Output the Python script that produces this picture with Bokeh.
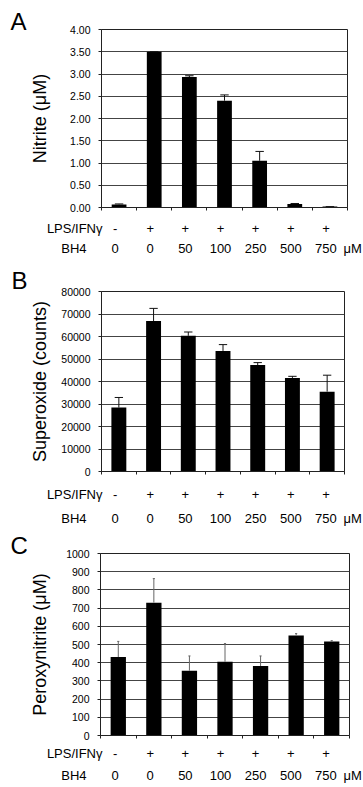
from bokeh.plotting import figure
from bokeh.models import Range1d, FixedTicker, NumeralTickFormatter
from bokeh.layouts import column, row
from bokeh.core.properties import value
from bokeh.embed import file_html
from bokeh.resources import INLINE

# ---------------- data ----------------
lps_row = ["-", "+", "+", "+", "+", "+", "+"]
bh4_row = ["0", "0", "50", "100", "250", "500", "750"]

nitrite = [0.07, 3.50, 2.93, 2.40, 1.05, 0.08, 0.02]
nitrite_err = [0.01, 0.0, 0.03, 0.13, 0.21, 0.01, 0.0]

superoxide = [28400, 66900, 60300, 53600, 47300, 41600, 35500]
superoxide_err = [4500, 5600, 1700, 2800, 1100, 700, 7300]

peroxynitrite = [431, 730, 356, 405, 382, 550, 516]
peroxynitrite_err = [86, 132, 81, 100, 55, 10, 5]

FONT = "Liberation Sans"
FIG_W = 363
LETTER_W = 27
LETTER_H = 44
ROW_FONT = "13px"
# horizontal table scale for the condition rows (px)
TABLE_LEFT, TABLE_WIDTH = 97, 246


def blank_fig(x0, width, y0, y1):
    """A figure whose frame is the whole canvas, in pixel coordinates."""
    p = figure(width=width, height=y1 - y0, output_backend="svg",
               toolbar_location=None, x_axis_type=None, y_axis_type=None,
               x_range=Range1d(x0, x0 + width), y_range=Range1d(y1, y0),
               title=None)
    p.min_border = 0
    p.min_border_left = 0
    p.min_border_right = 0
    p.min_border_top = 0
    p.min_border_bottom = 0
    p.outline_line_color = None
    p.background_fill_color = "white"
    p.border_fill_color = "white"
    return p


def panel(letter, ylabel, vals, errs, ymax, ystep, fmt, g):
    n = len(vals)
    fl, fr, ft, fb = g["frame"]
    fw, fh = fr - fl, fb - ft
    top = g["top"]
    plot_x0 = LETTER_W
    plot_w = FIG_W - LETTER_W
    bb = 10
    plot_bottom = fb + bb

    # ---- letter box (small) + empty filler below it ----
    pl = blank_fig(0, LETTER_W, top, top + LETTER_H)
    pl.text(x=[g["letter"][0]], y=[g["letter"][1]], text=[letter],
            text_font=value(FONT), text_font_size="24px",
            text_color="black", text_baseline=value("middle"),
            text_align=value("left"))
    filler = blank_fig(0, LETTER_W, top + LETTER_H, plot_bottom)
    left = column(pl, filler, spacing=0)

    # ---- bar chart ----
    p = figure(frame_width=fw, frame_height=fh, output_backend="svg",
               toolbar_location=None, x_range=Range1d(0, n),
               y_range=Range1d(0, ymax), title=None)
    p.min_border_left = fl - plot_x0
    p.min_border_right = plot_w - (fl - plot_x0) - fw
    p.min_border_top = ft - top
    p.min_border_bottom = bb
    p.background_fill_color = "white"
    p.border_fill_color = "white"
    p.outline_line_color = "#222222"
    p.outline_line_width = 1

    xs = [i + 0.5 for i in range(n)]
    p.vbar(x=xs, top=vals, width=g["barw"], fill_color="black",
           line_color=None)
    tops = [v + e for v, e in zip(vals, errs)]
    p.segment(x0=xs, y0=vals, x1=xs, y1=tops, line_color=g["errc"],
              line_width=1)
    cw = g["cap"]
    p.segment(x0=[x - cw for x in xs], y0=tops, x1=[x + cw for x in xs],
              y1=tops, line_color=g["errc"], line_width=1)

    # x axis: small ticks at category boundaries, no labels
    p.xaxis.ticker = FixedTicker(ticks=[], minor_ticks=list(range(n + 1)))
    p.xaxis.minor_tick_out = 3
    p.xaxis.minor_tick_in = 0
    p.xaxis.minor_tick_line_color = "#222222"
    p.xaxis.major_tick_line_color = None
    p.xaxis.axis_line_color = "#222222"
    p.xaxis.major_label_standoff = 0
    p.xgrid.grid_line_color = None

    # y axis
    ticks = []
    t = 0
    while t <= ymax + 1e-9:
        ticks.append(t)
        t += ystep
    p.yaxis.ticker = FixedTicker(ticks=ticks)
    p.yaxis.formatter = NumeralTickFormatter(format=fmt)
    p.yaxis.major_label_text_font = FONT
    p.yaxis.major_label_text_font_size = "10.5px"
    p.yaxis.major_label_text_color = "black"
    p.yaxis.major_tick_out = 3
    p.yaxis.major_tick_in = 0
    p.yaxis.major_label_standoff = 8
    p.yaxis.minor_tick_line_color = None
    p.yaxis.axis_line_color = "#222222"
    p.yaxis.major_tick_line_color = "#222222"
    p.yaxis.axis_label = ylabel
    p.yaxis.axis_label_text_font = FONT
    p.yaxis.axis_label_text_font_size = "18px"
    p.yaxis.axis_label_text_font_style = "normal"
    p.yaxis.axis_label_text_color = "black"
    p.yaxis.axis_label_standoff = g["ylab_standoff"]
    p.ygrid.grid_line_color = "#444444"
    p.ygrid.grid_line_width = 1

    # ---- condition rows ----
    pt = blank_fig(0, FIG_W, plot_bottom, g["bottom"])
    r1, r2 = g["rows"]
    cx = [TABLE_LEFT + (i + 0.5) * TABLE_WIDTH / n for i in range(n)]
    common = dict(text_font=value(FONT), text_font_size=ROW_FONT,
                  text_color="black", text_baseline=value("middle"))
    pt.text(x=[102], y=[r1], text=["LPS/IFN\u03b3"], text_align=value("right"), **common)
    pt.text(x=[86], y=[r2], text=["BH4"], text_align=value("right"), **common)
    pt.text(x=cx, y=[r1] * n, text=lps_row, text_align=value("center"), **common)
    pt.text(x=cx, y=[r2] * n, text=bh4_row, text_align=value("center"), **common)
    pt.text(x=[343], y=[r2], text=["\u03bcM"], text_align=value("left"), **common)

    return column(row(left, p, spacing=0), pt, spacing=0)


gA = dict(top=0, bottom=260, frame=(97, 343, 29, 207), barw=0.42,
          errc="#111111", cap=0.12, ylab_standoff=17,
          letter=(10, 21), rows=(228, 248))
gB = dict(top=260, bottom=528, frame=(96, 339, 291, 471), barw=0.43,
          errc="#111111", cap=0.12, ylab_standoff=8,
          letter=(11, 280), rows=(494, 518))
gC = dict(top=528, bottom=787, frame=(97, 346, 553, 735), barw=0.43,
          errc="#666666", cap=0.03, ylab_standoff=13,
          letter=(10, 545), rows=(753, 775))

pA = panel("A", "Nitrite (\u03bcM)", nitrite, nitrite_err, 4.0, 0.5, "0.00", gA)
pB = panel("B", "Superoxide (counts)", superoxide, superoxide_err, 80000, 10000, "0", gB)
pC = panel("C", "Peroxynitrite (\u03bcM)", peroxynitrite, peroxynitrite_err, 1000, 100, "0", gC)

layout = column(pA, pB, pC, spacing=0)
open("out.html", "w").write(file_html(layout, INLINE))
